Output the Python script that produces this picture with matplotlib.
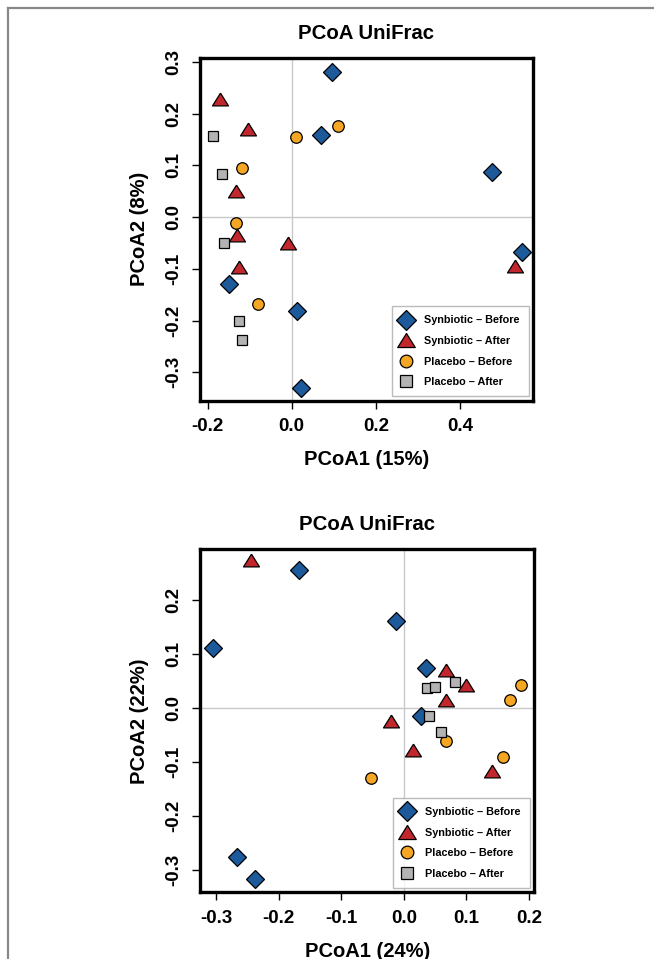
import matplotlib.pyplot as plt
import matplotlib as mpl
from matplotlib.lines import Line2D

mpl.rcParams['font.family'] = ['Liberation Sans', 'DejaVu Sans']
mpl.rcParams['font.weight'] = 'bold'

# Data: top panel (PCoA1 15%, PCoA2 8%)
top_syn_before_x = [0.095, 0.070, 0.476, 0.548, -0.149, 0.012, 0.022]
top_syn_before_y = [0.281, 0.159, 0.087, -0.068, -0.130, -0.181, -0.331]
top_syn_after_x = [-0.171, -0.103, -0.133, -0.129, -0.009, -0.125, 0.532]
top_syn_after_y = [0.228, 0.170, 0.051, -0.035, -0.050, -0.096, -0.095]
top_pla_before_x = [0.010, 0.111, -0.119, -0.133, -0.079]
top_pla_before_y = [0.154, 0.176, 0.095, -0.011, -0.169]
top_pla_after_x = [-0.188, -0.165, -0.160, -0.125, -0.118]
top_pla_after_y = [0.156, 0.084, -0.051, -0.201, -0.238]

# Data: bottom panel (PCoA1 24%, PCoA2 22%)
bot_syn_before_x = [-0.168, -0.306, -0.012, 0.035, 0.027, -0.267, -0.238]
bot_syn_before_y = [0.256, 0.111, 0.162, 0.075, -0.015, -0.276, -0.317]
bot_syn_after_x = [-0.245, 0.068, 0.100, 0.067, -0.021, 0.015, 0.141]
bot_syn_after_y = [0.275, 0.071, 0.043, 0.015, -0.023, -0.077, -0.116]
bot_pla_before_x = [0.187, 0.169, 0.067, 0.158, -0.053]
bot_pla_before_y = [0.042, 0.015, -0.060, -0.091, -0.130]
bot_pla_after_x = [0.037, 0.050, 0.081, 0.040, 0.060]
bot_pla_after_y = [0.037, 0.040, 0.049, -0.015, -0.045]

labels = ['Synbiotic – Before', 'Synbiotic – After', 'Placebo – Before', 'Placebo – After']
colors = ['#1C5A9C', '#C1272D', '#F5A623', '#B3B3B3']
# triangle a bit wider than tall, like R's pch 24
tri = [(0, 0.8), (-1, -0.8), (1, -0.8), (0, 0.8)]
markers = ['D', tri, 'o', 's']
sizes = [8.8, 11.5, 8.3, 7.5]

fig = plt.figure(figsize=(6.54, 9.59), dpi=100)

# outer frame lines (left and top only)
fig.add_artist(Line2D([7.5 / 654, 7.5 / 654], [0, 1 - 7.5 / 959], color='#888888', lw=1.6))
fig.add_artist(Line2D([7.5 / 654, 1], [1 - 7.5 / 959, 1 - 7.5 / 959], color='#888888', lw=1.6))


def panel(rect, data, xlim, ylim, xticks, yticks, xlab, ylab):
    ax = fig.add_axes(rect)
    ax.axhline(0, color='#C8C8C8', lw=1, zorder=0)
    ax.axvline(0, color='#C8C8C8', lw=1, zorder=0)
    for (xs, ys), lab, c, m, s in zip(data, labels, colors, markers, sizes):
        ax.plot(xs, ys, linestyle='none', marker=m, ms=s, mfc=c, mec='black',
                mew=0.9, label=lab, zorder=3)
    ax.set_xlim(xlim)
    ax.set_ylim(ylim)
    ax.set_xticks(xticks)
    ax.set_yticks(yticks)
    ax.set_xticklabels([f'{t:.1f}' for t in xticks], fontsize=13.5, fontweight='bold')
    ax.set_yticklabels([f'{t:.1f}' for t in yticks], fontsize=13.5, fontweight='bold',
                       rotation=90, va='center')
    ax.tick_params(direction='out', length=5.5, width=1, pad=7)
    for sp in ax.spines.values():
        sp.set_linewidth(2.4)
    ax.set_title('PCoA UniFrac', fontsize=14.7, fontweight='bold', pad=14)
    ax.set_xlabel(xlab, fontsize=14.5, fontweight='bold', labelpad=11)
    ax.set_ylabel(ylab, fontsize=14.5, fontweight='bold', labelpad=12)
    leg = ax.legend(loc='lower right', fontsize=7.8, frameon=True, fancybox=False,
                    edgecolor='#AAAAAA', borderpad=0.85, labelspacing=0.98,
                    handlelength=0.8, handletextpad=1.3, borderaxespad=0.4,
                    markerscale=1.1)
    leg.get_frame().set_linewidth(1.0)
    for t in leg.get_texts():
        t.set_fontweight('bold')
    return ax


panel([200 / 654, 1 - 400.7 / 959, 333 / 654, 342.7 / 959],
      [(top_syn_before_x, top_syn_before_y), (top_syn_after_x, top_syn_after_y),
       (top_pla_before_x, top_pla_before_y), (top_pla_after_x, top_pla_after_y)],
      (-0.218, 0.574), (-0.355, 0.3075),
      [-0.2, 0.0, 0.2, 0.4], [-0.3, -0.2, -0.1, 0.0, 0.1, 0.2, 0.3],
      'PCoA1 (15%)', 'PCoA2 (8%)')

panel([200 / 654, 1 - 892.3 / 959, 334.3 / 654, 343 / 959],
      [(bot_syn_before_x, bot_syn_before_y), (bot_syn_after_x, bot_syn_after_y),
       (bot_pla_before_x, bot_pla_before_y), (bot_pla_after_x, bot_pla_after_y)],
      (-0.326, 0.2085), (-0.341, 0.294),
      [-0.3, -0.2, -0.1, 0.0, 0.1, 0.2], [-0.3, -0.2, -0.1, 0.0, 0.1, 0.2],
      'PCoA1 (24%)', 'PCoA2 (22%)')

fig.savefig('out.png', dpi=100)
